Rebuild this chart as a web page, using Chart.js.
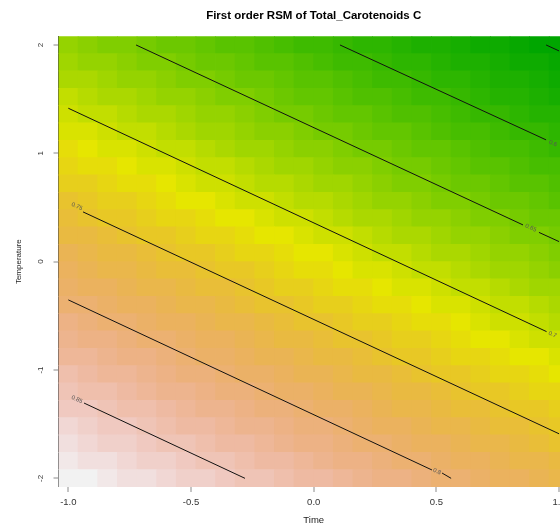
<!DOCTYPE html>
<html>
<head>
<meta charset="utf-8">
<script src="https://cdn.jsdelivr.net/npm/chart.js@4/dist/chart.umd.min.js"></script>
<style>
  html, body { margin: 0; padding: 0; background: #fff; overflow: hidden; }
  #wrap { width: 560px; height: 524px; overflow: hidden; }
</style>
</head>
<body>
<div id="wrap"><canvas id="rsm" width="600" height="524"></canvas></div>
<script>
/* First order RSM of Total_Carotenoids C — fitted surface over coded Time x Temperature */

const timeGrid = [-1.00, -0.92, -0.84, -0.76, -0.68, -0.60, -0.52, -0.44, -0.36, -0.28, -0.20, -0.12, -0.04,
                  0.04, 0.12, 0.20, 0.28, 0.36, 0.44, 0.52, 0.60, 0.68, 0.76, 0.84, 0.92, 1.00];
const tempGrid = [-2.00, -1.84, -1.68, -1.52, -1.36, -1.20, -1.04, -0.88, -0.72, -0.56, -0.40, -0.24, -0.08,
                  0.08, 0.24, 0.40, 0.56, 0.72, 0.88, 1.04, 1.20, 1.36, 1.52, 1.68, 1.84, 2.00];

// predicted response, one row per Temperature value (bottom row first), columns follow timeGrid
const predicted = [
  [0.889,0.884,0.879,0.875,0.870,0.865,0.860,0.855,0.851,0.846,0.841,0.836,0.831,0.827,0.822,0.817,0.812,0.807,0.803,0.798,0.793,0.788,0.783,0.779,0.774,0.769],
  [0.880,0.875,0.870,0.866,0.861,0.856,0.851,0.846,0.842,0.837,0.832,0.827,0.822,0.818,0.813,0.808,0.803,0.798,0.794,0.789,0.784,0.779,0.774,0.770,0.765,0.760],
  [0.871,0.866,0.861,0.857,0.852,0.847,0.842,0.837,0.833,0.828,0.823,0.818,0.813,0.809,0.804,0.799,0.794,0.789,0.785,0.780,0.775,0.770,0.765,0.761,0.756,0.751],
  [0.862,0.857,0.852,0.848,0.843,0.838,0.833,0.828,0.824,0.819,0.814,0.809,0.804,0.800,0.795,0.790,0.785,0.780,0.776,0.771,0.766,0.761,0.756,0.752,0.747,0.742],
  [0.853,0.848,0.843,0.839,0.834,0.829,0.824,0.819,0.815,0.810,0.805,0.800,0.795,0.791,0.786,0.781,0.776,0.771,0.767,0.762,0.757,0.752,0.747,0.743,0.738,0.733],
  [0.844,0.839,0.834,0.830,0.825,0.820,0.815,0.810,0.806,0.801,0.796,0.791,0.786,0.782,0.777,0.772,0.767,0.762,0.758,0.753,0.748,0.743,0.738,0.734,0.729,0.724],
  [0.835,0.830,0.825,0.821,0.816,0.811,0.806,0.801,0.797,0.792,0.787,0.782,0.777,0.773,0.768,0.763,0.758,0.753,0.749,0.744,0.739,0.734,0.729,0.725,0.720,0.715],
  [0.826,0.821,0.816,0.812,0.807,0.802,0.797,0.792,0.788,0.783,0.778,0.773,0.768,0.764,0.759,0.754,0.749,0.744,0.740,0.735,0.730,0.725,0.720,0.716,0.711,0.706],
  [0.817,0.812,0.807,0.803,0.798,0.793,0.788,0.783,0.779,0.774,0.769,0.764,0.759,0.755,0.750,0.745,0.740,0.735,0.731,0.726,0.721,0.716,0.711,0.707,0.702,0.697],
  [0.808,0.803,0.798,0.794,0.789,0.784,0.779,0.774,0.770,0.765,0.760,0.755,0.750,0.746,0.741,0.736,0.731,0.726,0.722,0.717,0.712,0.707,0.702,0.698,0.693,0.688],
  [0.799,0.794,0.789,0.785,0.780,0.775,0.770,0.765,0.761,0.756,0.751,0.746,0.741,0.737,0.732,0.727,0.722,0.717,0.713,0.708,0.703,0.698,0.693,0.689,0.684,0.679],
  [0.790,0.785,0.780,0.776,0.771,0.766,0.761,0.756,0.752,0.747,0.742,0.737,0.732,0.728,0.723,0.718,0.713,0.708,0.704,0.699,0.694,0.689,0.684,0.680,0.675,0.670],
  [0.781,0.776,0.771,0.767,0.762,0.757,0.752,0.747,0.743,0.738,0.733,0.728,0.723,0.719,0.714,0.709,0.704,0.699,0.695,0.690,0.685,0.680,0.675,0.671,0.666,0.661],
  [0.772,0.767,0.762,0.758,0.753,0.748,0.743,0.738,0.734,0.729,0.724,0.719,0.714,0.710,0.705,0.700,0.695,0.690,0.686,0.681,0.676,0.671,0.666,0.662,0.657,0.652],
  [0.763,0.758,0.753,0.749,0.744,0.739,0.734,0.729,0.725,0.720,0.715,0.710,0.705,0.701,0.696,0.691,0.686,0.681,0.677,0.672,0.667,0.662,0.657,0.653,0.648,0.643],
  [0.754,0.749,0.744,0.740,0.735,0.730,0.725,0.720,0.716,0.711,0.706,0.701,0.696,0.692,0.687,0.682,0.677,0.672,0.668,0.663,0.658,0.653,0.648,0.644,0.639,0.634],
  [0.745,0.740,0.735,0.731,0.726,0.721,0.716,0.711,0.707,0.702,0.697,0.692,0.687,0.683,0.678,0.673,0.668,0.663,0.659,0.654,0.649,0.644,0.639,0.635,0.630,0.625],
  [0.736,0.731,0.726,0.722,0.717,0.712,0.707,0.702,0.698,0.693,0.688,0.683,0.678,0.674,0.669,0.664,0.659,0.654,0.650,0.645,0.640,0.635,0.630,0.626,0.621,0.616],
  [0.727,0.722,0.717,0.713,0.708,0.703,0.698,0.693,0.689,0.684,0.679,0.674,0.669,0.665,0.660,0.655,0.650,0.645,0.641,0.636,0.631,0.626,0.621,0.617,0.612,0.607],
  [0.718,0.713,0.708,0.704,0.699,0.694,0.689,0.684,0.680,0.675,0.670,0.665,0.660,0.656,0.651,0.646,0.641,0.636,0.632,0.627,0.622,0.617,0.612,0.608,0.603,0.598],
  [0.709,0.704,0.699,0.695,0.690,0.685,0.680,0.675,0.671,0.666,0.661,0.656,0.651,0.647,0.642,0.637,0.632,0.627,0.623,0.618,0.613,0.608,0.603,0.599,0.594,0.589],
  [0.700,0.695,0.690,0.686,0.681,0.676,0.671,0.666,0.662,0.657,0.652,0.647,0.642,0.638,0.633,0.628,0.623,0.618,0.614,0.609,0.604,0.599,0.594,0.590,0.585,0.580],
  [0.691,0.686,0.681,0.677,0.672,0.667,0.662,0.657,0.653,0.648,0.643,0.638,0.633,0.629,0.624,0.619,0.614,0.609,0.605,0.600,0.595,0.590,0.585,0.581,0.576,0.571],
  [0.682,0.677,0.672,0.668,0.663,0.658,0.653,0.648,0.644,0.639,0.634,0.629,0.624,0.620,0.615,0.610,0.605,0.600,0.596,0.591,0.586,0.581,0.576,0.572,0.567,0.562],
  [0.673,0.668,0.663,0.659,0.654,0.649,0.644,0.639,0.635,0.630,0.625,0.620,0.615,0.611,0.606,0.601,0.596,0.591,0.587,0.582,0.577,0.572,0.567,0.563,0.558,0.553],
  [0.664,0.659,0.654,0.650,0.645,0.640,0.635,0.630,0.626,0.621,0.616,0.611,0.606,0.602,0.597,0.592,0.587,0.582,0.578,0.573,0.568,0.563,0.558,0.554,0.549,0.544]
];

const timeTicks = [-1, -0.5, 0, 0.5, 1];
const tempTicks = [-2, -1, 0, 1, 2];

// contour levels and their traced segments [Time, Temperature]; gaps are where R put the labels
const contourLevels = [0.85, 0.8, 0.75, 0.7, 0.65, 0.6, 0.55];
const contourSegments = [
  [[[-0.936, -1.305], [-0.280, -2.000]]],
  [[[-1.000, -0.353], [0.482, -1.923]], [[0.523, -1.951], [0.560, -2.000]]],
  [[[-0.940, 0.459], [1.000, -1.589]]],
  [[[-1.000, 1.416], [0.949, -0.646]]],
  [[[-0.724, 2.000], [0.853, 0.339]], [[0.918, 0.270], [1.000, 0.185]]],
  [[[0.107, 2.000], [0.947, 1.124]]],
  [[[0.947, 2.000], [1.000, 1.945]]]
];
const labelSpots = [[-0.965, -1.272], [0.502, -1.937], [-0.965, 0.510], [0.973, -0.672], [0.885, 0.311], [0.975, 1.091], null];

/* R's terrain.colors(n) */
function hsv(h, s, v) {
    const i = Math.floor(h * 6), f = h * 6 - i;
    const p = v * (1 - s), q = v * (1 - f * s), t = v * (1 - (1 - f) * s);
    const [r, g, b] = [[v, t, p], [q, v, p], [p, v, t], [p, q, v], [t, p, v], [v, p, q]][((i % 6) + 6) % 6];
    return `rgb(${Math.round(r * 255)},${Math.round(g * 255)},${Math.round(b * 255)})`;
}
function terrainColors(n) {
    const seq = (a, b, len) => Array.from({ length: len }, (_, i) => len === 1 ? a : a + (b - a) * i / (len - 1));
    const k = Math.floor(n / 2), m = n - k + 1;
    const out = [];
    const h1 = seq(4 / 12, 2 / 12, k), v1 = seq(0.65, 0.9, k);
    for (let i = 0; i < k; i++) out.push(hsv(h1[i], 1, v1[i]));
    const h2 = seq(2 / 12, 0, m), s2 = seq(1, 0, m), v2 = seq(0.9, 0.95, m);
    for (let i = 1; i < m; i++) out.push(hsv(h2[i], s2[i], v2[i]));
    return out;
}

const palette = terrainColors(50);
const zAll = predicted.flat();
const zMin = Math.min(...zAll), zMax = Math.max(...zAll);
const colorFor = z => palette[Math.min(49, Math.max(0, Math.ceil((z - zMin) / (zMax - zMin) * 50 - 1e-9) - 1))];

const halfTime = (timeGrid[1] - timeGrid[0]) / 2;
const halfTemp = (tempGrid[1] - tempGrid[0]) / 2;

const heatSets = tempGrid.map((temp, j) => ({
    type: 'bar',
    data: timeGrid.map(t => ({ x: t, y: [temp - halfTemp, temp + halfTemp] })),
    backgroundColor: predicted[j].map(colorFor),
    borderWidth: 0,
    grouped: false,
    barPercentage: 1,
    categoryPercentage: 1,
    inflateAmount: 0.4,
    order: 2,
}));

const contourSets = contourSegments.flatMap(segs => segs.map(seg => ({
    type: 'line',
    data: seg.map(([x, y]) => ({ x, y })),
    borderColor: '#111',
    borderWidth: 1,
    pointRadius: 0,
    tension: 0,
    fill: false,
    order: 1,
})));

/* inline contour labels, turned along the line like R does */
const contourLabels = {
    id: 'contourLabels',
    afterDatasetsDraw(chart) {
        const { ctx, scales: { x, y } } = chart;
        ctx.save();
        ctx.font = '6px "Liberation Sans", Arial, sans-serif';
        ctx.fillStyle = '#555';
        ctx.textAlign = 'center';
        ctx.textBaseline = 'middle';
        contourLevels.forEach((level, k) => {
            const spot = labelSpots[k];
            if (!spot) return;
            const [a, b] = contourSegments[k][0];
            const ang = Math.atan2(y.getPixelForValue(b[1]) - y.getPixelForValue(a[1]),
                                   x.getPixelForValue(b[0]) - x.getPixelForValue(a[0]));
            ctx.save();
            ctx.translate(x.getPixelForValue(spot[0]), y.getPixelForValue(spot[1]));
            ctx.rotate(ang);
            ctx.fillText(String(level), 0, 0);
            ctx.restore();
        });
        ctx.restore();
    }
};

Chart.defaults.font.family = '"Liberation Sans", Arial, sans-serif';

new Chart(document.getElementById('rsm'), {
    type: 'bar',
    data: { datasets: [...contourSets, ...heatSets] },
    options: {
        responsive: false,
        animation: false,
        events: [],
        layout: { padding: { left: 0, right: 31.1, top: 0, bottom: 0 } },
        plugins: {
            legend: { display: false },
            tooltip: { enabled: false },
            title: {
                display: true,
                fullSize: false,
                text: 'First order RSM of Total_Carotenoids C',
                color: '#000',
                font: { size: 11.5, weight: 'bold' },
                padding: { top: 9.1, bottom: 13.4 },
            }
        },
        scales: {
            x: {
                type: 'linear',
                position: 'bottom',
                offset: false,
                min: timeGrid[0] - halfTime,
                max: timeGrid[timeGrid.length - 1] + halfTime,
                afterBuildTicks: s => { s.ticks = timeTicks.map(v => ({ value: v })); },
                afterFit: s => { s.height = 37; },
                ticks: { color: '#333', font: { size: 9.5 }, padding: 4.3, maxRotation: 0, callback: v => v.toFixed(1) },
                grid: { display: true, offset: false, drawOnChartArea: false, tickLength: 5, lineWidth: 0, tickWidth: 1, tickColor: '#8a8a8a' },
                border: { display: false },
                title: { display: true, text: 'Time', color: '#222', font: { size: 9.5, lineHeight: 0.75 }, padding: { top: 0, bottom: 0 } },
            },
            y: {
                type: 'linear',
                position: 'left',
                min: tempGrid[0] - halfTemp,
                max: tempGrid[tempGrid.length - 1] + halfTemp,
                afterBuildTicks: s => { s.ticks = tempTicks.map(v => ({ value: v })); },
                afterFit: s => { s.width = 58.5; },
                ticks: { color: '#333', font: { size: 8 }, padding: 9.5, minRotation: 90, maxRotation: 90, crossAlign: 'center', callback: v => String(v) },
                grid: { display: true, drawOnChartArea: false, tickLength: 5, lineWidth: 0, tickWidth: 1, tickColor: '#8a8a8a' },
                border: { display: true, color: '#444', width: 1 },
                title: { display: true, text: 'Temperature', color: '#222', font: { size: 8 }, padding: { top: 14.2, bottom: 0 } },
            }
        }
    },
    plugins: [contourLabels]
});
</script>
</body>
</html>
